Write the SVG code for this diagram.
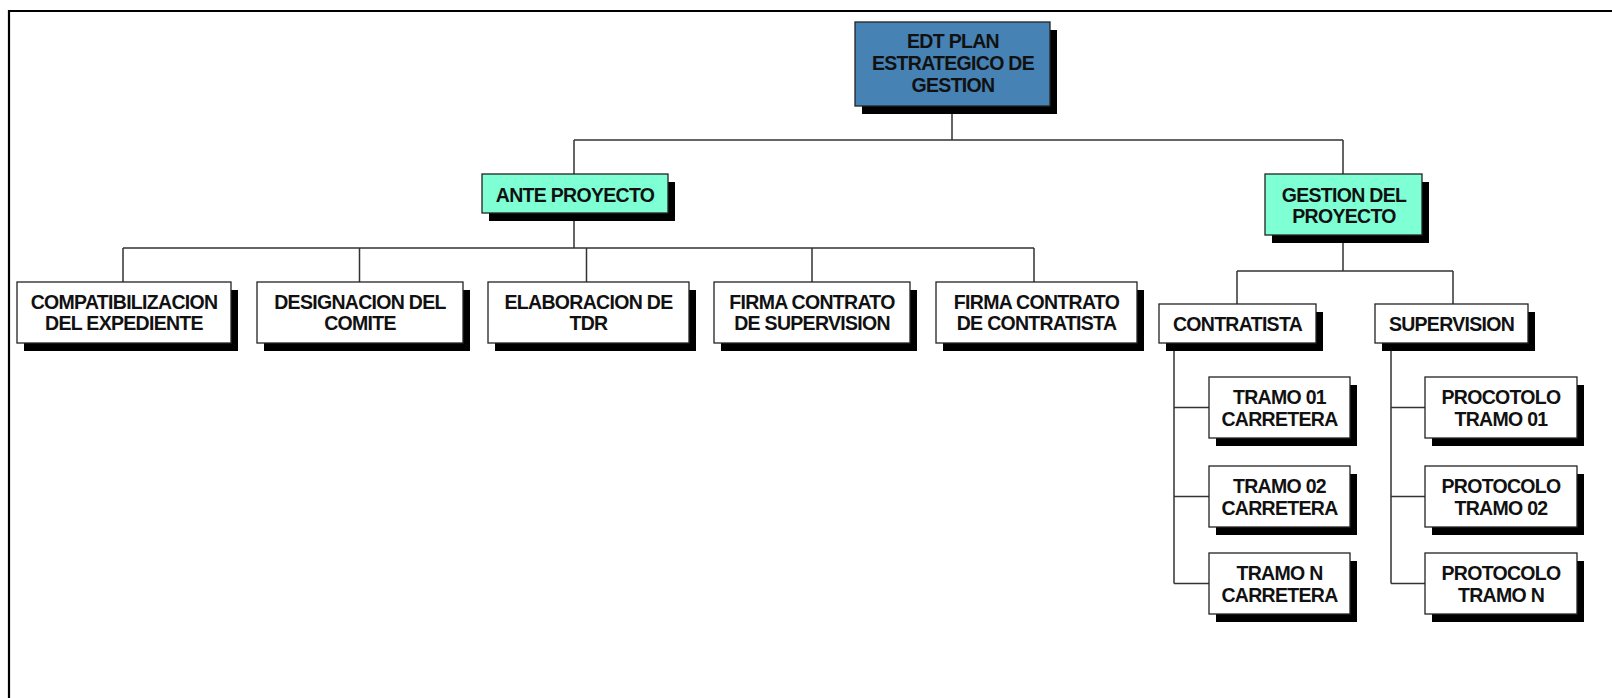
<svg xmlns="http://www.w3.org/2000/svg" width="1612" height="698" viewBox="0 0 1612 698">
<style>
.sh{fill:#000}
.bx{fill:#fff;stroke:#222;stroke-width:1.3}
.blue{fill:#4682B4}
.green{fill:#7FFFD4}
.t{font-family:"Liberation Sans",Arial,sans-serif;font-weight:bold;font-size:19.5px;letter-spacing:-0.7px;text-anchor:middle;fill:#111}
.c{fill:none;stroke:#333;stroke-width:1.5}
.frame{fill:none;stroke:#000;stroke-width:2.2}
</style>
<rect width="1612" height="698" fill="#fff"/>
<path class="frame" d="M9 698 V11 H1612"/>
<g id="connectors">
<path class="c" d="M952 106 V140 M574 140 H1343 M574 140 V174 M1343 140 V174"/>
<path class="c" d="M574 213 V248 M123 248 H1034 M123 248 V282 M359.5 248 V282 M586.5 248 V282 M812 248 V282 M1034 248 V282"/>
<path class="c" d="M1343 235 V271 M1237 271 H1453 M1237 271 V304 M1453 271 V304"/>
<path class="c" d="M1174 343 V583.5 M1174 407.5 H1209 M1174 496.5 H1209 M1174 583.5 H1209"/>
<path class="c" d="M1391 343 V583.5 M1391 407.5 H1425 M1391 496.5 H1425 M1391 583.5 H1425"/>
</g>
<g id="root">
<rect class="sh" x="862" y="30" width="195" height="84"/>
<rect class="bx blue" x="855" y="22" width="195" height="84"/>
<text class="t" x="953" y="48">EDT PLAN</text>
<text class="t" x="953" y="69.5">ESTRATEGICO DE</text>
<text class="t" x="953" y="91.5">GESTION</text>
</g>
<g id="ante">
<rect class="sh" x="489" y="182" width="186" height="39"/>
<rect class="bx green" x="482" y="174" width="186" height="39"/>
<text class="t" x="575" y="201.5">ANTE PROYECTO</text>
</g>
<g id="gestion">
<rect class="sh" x="1272" y="182" width="157" height="61"/>
<rect class="bx green" x="1265" y="174" width="157" height="61"/>
<text class="t" x="1344" y="201.7">GESTION DEL</text>
<text class="t" x="1344" y="223.3">PROYECTO</text>
</g>
<g id="compat">
<rect class="sh" x="24" y="290" width="214" height="61"/>
<rect class="bx" x="17" y="282" width="214" height="61"/>
<text class="t" x="124" y="308.5">COMPATIBILIZACION</text>
<text class="t" x="124" y="330">DEL EXPEDIENTE</text>
</g>
<g id="designacion">
<rect class="sh" x="264" y="290" width="206" height="61"/>
<rect class="bx" x="257" y="282" width="206" height="61"/>
<text class="t" x="360" y="308.5">DESIGNACION DEL</text>
<text class="t" x="360" y="330">COMITE</text>
</g>
<g id="elaboracion">
<rect class="sh" x="495" y="290" width="201" height="61"/>
<rect class="bx" x="488" y="282" width="201" height="61"/>
<text class="t" x="588.5" y="308.5">ELABORACION DE</text>
<text class="t" x="588.5" y="330">TDR</text>
</g>
<g id="firma-sup">
<rect class="sh" x="721" y="290" width="196" height="61"/>
<rect class="bx" x="714" y="282" width="196" height="61"/>
<text class="t" x="812" y="308.5">FIRMA CONTRATO</text>
<text class="t" x="812" y="330">DE SUPERVISION</text>
</g>
<g id="firma-con">
<rect class="sh" x="943" y="290" width="201" height="61"/>
<rect class="bx" x="936" y="282" width="201" height="61"/>
<text class="t" x="1036.5" y="308.5">FIRMA CONTRATO</text>
<text class="t" x="1036.5" y="330">DE CONTRATISTA</text>
</g>
<g id="contratista">
<rect class="sh" x="1166" y="312" width="157" height="39"/>
<rect class="bx" x="1159" y="304" width="157" height="39"/>
<text class="t" x="1237.5" y="330.5">CONTRATISTA</text>
</g>
<g id="supervision">
<rect class="sh" x="1382" y="312" width="153" height="39"/>
<rect class="bx" x="1375" y="304" width="153" height="39"/>
<text class="t" x="1451.5" y="330.5">SUPERVISION</text>
</g>
<g id="tramo1">
<rect class="sh" x="1216" y="385" width="141" height="61"/>
<rect class="bx" x="1209" y="377" width="141" height="61"/>
<text class="t" x="1279.5" y="404.3">TRAMO 01</text>
<text class="t" x="1279.5" y="426.3">CARRETERA</text>
</g>
<g id="tramo2">
<rect class="sh" x="1216" y="474" width="141" height="61"/>
<rect class="bx" x="1209" y="466" width="141" height="61"/>
<text class="t" x="1279.5" y="493.3">TRAMO 02</text>
<text class="t" x="1279.5" y="515.3">CARRETERA</text>
</g>
<g id="tramoN">
<rect class="sh" x="1216" y="561" width="141" height="61"/>
<rect class="bx" x="1209" y="553" width="141" height="61"/>
<text class="t" x="1279.5" y="580.3">TRAMO N</text>
<text class="t" x="1279.5" y="602.3">CARRETERA</text>
</g>
<g id="protocolo1">
<rect class="sh" x="1432" y="385" width="152" height="61"/>
<rect class="bx" x="1425" y="377" width="152" height="61"/>
<text class="t" x="1501" y="404.3">PROCOTOLO</text>
<text class="t" x="1501" y="426.3">TRAMO 01</text>
</g>
<g id="protocolo2">
<rect class="sh" x="1432" y="474" width="152" height="61"/>
<rect class="bx" x="1425" y="466" width="152" height="61"/>
<text class="t" x="1501" y="493.3">PROTOCOLO</text>
<text class="t" x="1501" y="515.3">TRAMO 02</text>
</g>
<g id="protocoloN">
<rect class="sh" x="1432" y="561" width="152" height="61"/>
<rect class="bx" x="1425" y="553" width="152" height="61"/>
<text class="t" x="1501" y="580.3">PROTOCOLO</text>
<text class="t" x="1501" y="602.3">TRAMO N</text>
</g>
</svg>
